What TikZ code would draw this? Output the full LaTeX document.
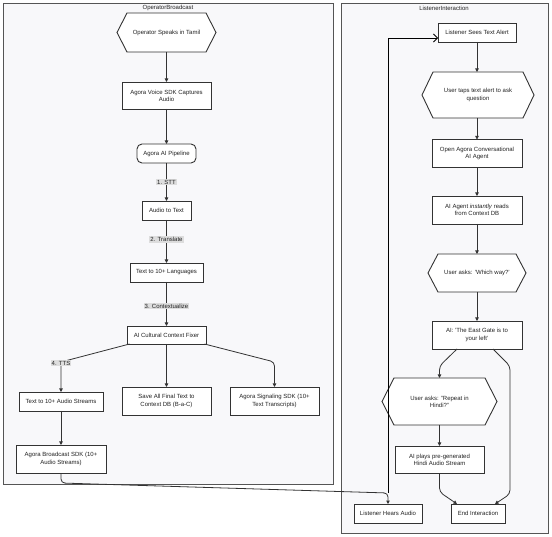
\documentclass[tikz,border=0pt]{standalone}
\usepackage{fontspec}
\setmainfont{Liberation Sans}
\usetikzlibrary{arrows.meta}
\definecolor{dc}{HTML}{333333}
\definecolor{tc}{HTML}{222222}
\definecolor{clfill}{HTML}{F8F8FA}
\definecolor{clline}{HTML}{555555}
\definecolor{lg}{HTML}{DDDDDD}
\tikzset{
  txtfont/.style={font=\fontsize{6}{7.2}\selectfont, text=tc},
  box/.style={txtfont, draw=dc, fill=white, line width=0.9pt, align=center, inner sep=0pt, outer sep=0pt},
  hexbox/.style={txtfont, align=center, inner sep=0pt, outer sep=0pt},
  hexline/.style={draw=dc, fill=white, line width=0.9pt},
  cluster/.style={draw=clline, fill=clfill, line width=0.8pt},
  ctitle/.style={txtfont, inner sep=0pt},
  lbl/.style={txtfont, fill=lg, draw=none, inner sep=1.2pt},
  edge/.style={draw=dc, line width=0.8pt, rounded corners=4pt, -{Triangle[length=3.5pt,width=3.5pt]}},
  openedge/.style={draw=black, line width=0.8pt, -{Straight Barb[length=4pt,width=8pt]}}
}
\newcommand\hexnode[7]{%
  \draw[hexline] ({#2-#4/2+#6},{#3-#5/2}) -- ({#2+#4/2-#6},{#3-#5/2}) -- ({#2+#4/2},#3) -- ({#2+#4/2-#6},{#3+#5/2}) -- ({#2-#4/2+#6},{#3+#5/2}) -- ({#2-#4/2},#3) -- cycle;
  \node[hexbox, minimum width=#4pt, minimum height=#5pt] (#1) at (#2,#3) {#7};}
\begin{document}
\begin{tikzpicture}[x=1pt,y=-1pt]
\useasboundingbox (0,0) rectangle (552,537);
% clusters
\draw[cluster] (3,3) rectangle (333,484);
\node[ctitle] (t1) at (168,8) {OperatorBroadcast};
\draw[cluster] (341,3) rectangle (548,533);
\node[ctitle] (t2) at (444,8) {ListenerInteraction};

% left column
\hexnode{op}{166.5}{32.5}{99}{39}{10}{Operator Speaks in Tamil}
\node[box, minimum width=89pt, minimum height=27pt] (voice) at (166.5,95.5) {Agora Voice SDK Captures\\Audio};
\node[box, rounded corners=5pt, minimum width=59pt, minimum height=19pt] (pipe) at (166.5,153.5) {Agora AI Pipeline};
\node[box, minimum width=49pt, minimum height=19pt] (att) at (166.5,210.5) {Audio to Text};
\node[box, minimum width=73pt, minimum height=19pt] (lang) at (166.5,272.5) {Text to 10+ Languages};
\node[box, minimum width=79pt, minimum height=18pt] (fixer) at (166.5,335) {AI Cultural Context Fixer};
\node[box, minimum width=84pt, minimum height=19pt] (aud) at (61,401.5) {Text to 10+ Audio Streams};
\node[box, minimum width=89pt, minimum height=28pt] (save) at (166.5,401) {Save All Final Text to\\Context DB (B-a-C)};
\node[box, minimum width=89pt, minimum height=28pt] (sig) at (274.5,401) {Agora Signaling SDK (10+\\Text Transcripts)};
\node[box, minimum width=90pt, minimum height=28pt] (bcast) at (61,459) {Agora Broadcast SDK (10+\\Audio Streams)};

% right column
\node[box, minimum width=78pt, minimum height=19pt] (sees) at (477,32.5) {Listener Sees Text Alert};
\hexnode{taps}{478}{95}{112}{46}{11}{User taps text alert to ask\\question}
\node[box, minimum width=90pt, minimum height=28pt] (open) at (477,153.5) {Open Agora Conversational\\AI Agent};
\node[box, minimum width=90pt, minimum height=28pt] (reads) at (477,210) {AI Agent \textit{instantly} reads\\from Context DB};
\hexnode{which}{477}{273}{98}{38}{10}{User asks: 'Which way?'}
\node[box, minimum width=90pt, minimum height=28pt] (east) at (477,335) {AI: 'The East Gate is to\\your left'};
\hexnode{rep}{439.5}{401.5}{115}{47}{12}{User asks: "Repeat in\\Hindi?"}
\node[box, minimum width=89pt, minimum height=27pt] (plays) at (439.5,459.5) {AI plays pre-generated\\Hindi Audio Stream};
\node[box, minimum width=68pt, minimum height=19pt] (hears) at (388,513.5) {Listener Hears Audio};
\node[box, minimum width=54pt, minimum height=19pt] (end) at (478,513.5) {End Interaction};

% left edges
\draw[edge] (op.south) -- (voice.north);
\draw[edge] (voice.south) -- (pipe.north);
\draw[edge] (pipe.south) -- (att.north);
\draw[edge] (att.south) -- (lang.north);
\draw[edge] (lang.south) -- (fixer.north);
\draw[edge] ([xshift=-37pt]fixer.south) -- (61,362) -- (aud.north);
\draw[edge] (fixer.south) -- (save.north);
\draw[edge] ([xshift=38pt]fixer.south) -- (274.5,362) -- (sig.north);
\draw[edge] (aud.south) -- (bcast.north);
\coordinate (j) at (388,493);
\draw[edge] (bcast.south) -- (61,483) -- (j) -- (hears.north);
\draw[openedge] (j) |- ([yshift=-5.5pt]sees.west);
% edge labels
\node[lbl] (l1) at (166.5,182) {1. STT};
\node[lbl] (l2) at (166.5,239.5) {2. Translate};
\node[lbl] (l3) at (166.5,306) {3. Contextualize};
\node[lbl] (l4) at (61,363) {4. TTS};

% right edges
\draw[edge] (sees.south) -- (taps.north -| sees.south);
\draw[edge] (taps.south -| open.north) -- (open.north);
\draw[edge] (open.south) -- (reads.north);
\draw[edge] (reads.south) -- (which.north -| reads.south);
\draw[edge] (which.south -| east.north) -- (east.north);
\draw[edge] ([xshift=-20pt]east.south) -- (439.5,366) -- (rep.north);
\draw[edge] ([xshift=16pt]east.south) -- (510,366) -- (510,494) -- ([xshift=17pt]end.north);
\draw[edge] (rep.south) -- (plays.north);
\draw[edge] (plays.south) -- (439.5,492) -- ([xshift=-21pt]end.north);
\end{tikzpicture}
\end{document}
